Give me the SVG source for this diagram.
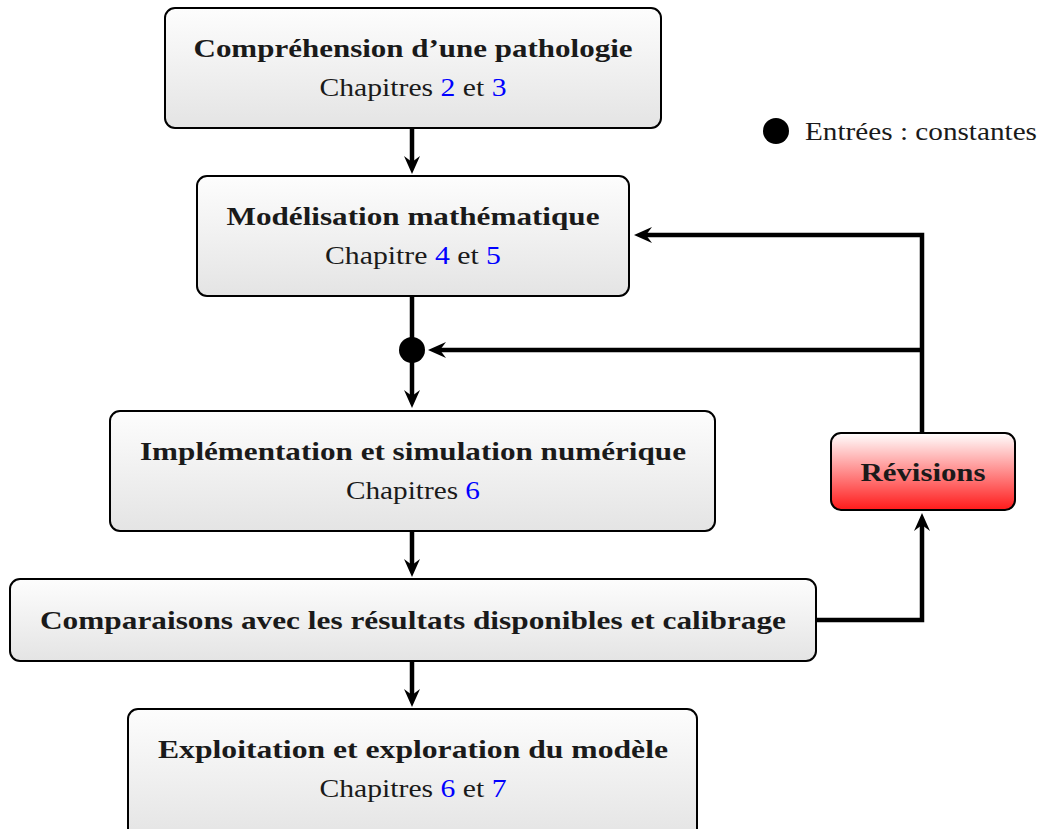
<svg xmlns="http://www.w3.org/2000/svg" width="1040" height="829" viewBox="0 0 1040 829">
<defs>
<linearGradient id="gGray" x1="0" y1="0" x2="0" y2="1">
<stop offset="0" stop-color="#fdfdfd"/>
<stop offset="1" stop-color="#e4e4e4"/>
</linearGradient>
<linearGradient id="gRed" x1="0" y1="0" x2="0" y2="1">
<stop offset="0" stop-color="#ffffff"/>
<stop offset="1" stop-color="#ff1a1a"/>
</linearGradient>
<marker id="arr" markerUnits="userSpaceOnUse" markerWidth="26" markerHeight="22" viewBox="-7 -11 26 22" refX="0" refY="0" orient="auto">
<path d="M-6,-8 L12,0 L-6,8 L0,0 Z" fill="#000"/>
</marker>
<style>
.box{fill:url(#gGray);stroke:#000;stroke-width:2}
.red{fill:url(#gRed);stroke:#000;stroke-width:2}
.t{font-family:"Liberation Serif","DejaVu Serif",serif;font-size:26px;font-weight:bold;fill:#1a1a1a;text-anchor:middle}
.s{font-family:"Liberation Serif","DejaVu Serif",serif;font-size:26px;fill:#1a1a1a;text-anchor:middle}
.l{font-family:"Liberation Serif","DejaVu Serif",serif;font-size:26px;fill:#1a1a1a}
.b{fill:#0000ff}
.c{fill:none;stroke:#000;stroke-width:4.5}
</style>
</defs>
<rect width="1040" height="829" fill="#fff"/>
<g id="connectors">
<path class="c" d="M412,128 V162" marker-end="url(#arr)"/>
<path class="c" d="M412,296 V350"/>
<path class="c" d="M412,350 V396" marker-end="url(#arr)"/>
<path class="c" d="M412,531 V565" marker-end="url(#arr)"/>
<path class="c" d="M412,661 V695" marker-end="url(#arr)"/>
<path class="c" d="M816,620 H922 V525" marker-end="url(#arr)"/>
<path class="c" d="M922,433 V235 H646" marker-end="url(#arr)"/>
<path class="c" d="M922,350 H440" marker-end="url(#arr)"/>
</g>
<g id="dot"><circle cx="412" cy="350" r="13" fill="#000"/></g>
<g id="n1">
<rect class="box" x="165" y="8" width="496" height="120" rx="10"/>
<text class="t" x="413" y="57" textLength="439" lengthAdjust="spacingAndGlyphs">Compréhension d’une pathologie</text>
<text class="s" x="413" y="96" textLength="187" lengthAdjust="spacingAndGlyphs">Chapitres <tspan class="b">2</tspan> et <tspan class="b">3</tspan></text>
</g>
<g id="n2">
<rect class="box" x="197" y="176" width="432" height="120" rx="10"/>
<text class="t" x="413" y="225" textLength="373" lengthAdjust="spacingAndGlyphs">Modélisation mathématique</text>
<text class="s" x="413" y="264" textLength="176" lengthAdjust="spacingAndGlyphs">Chapitre <tspan class="b">4</tspan> et <tspan class="b">5</tspan></text>
</g>
<g id="n3">
<rect class="box" x="110" y="411" width="605" height="120" rx="10"/>
<text class="t" x="413" y="460" textLength="546" lengthAdjust="spacingAndGlyphs">Implémentation et simulation numérique</text>
<text class="s" x="413" y="499" textLength="134" lengthAdjust="spacingAndGlyphs">Chapitres <tspan class="b">6</tspan></text>
</g>
<g id="n4">
<rect class="box" x="10" y="579" width="806" height="82" rx="10"/>
<text class="t" x="413" y="629" textLength="746" lengthAdjust="spacingAndGlyphs">Comparaisons avec les résultats disponibles et calibrage</text>
</g>
<g id="n5">
<rect class="box" x="128" y="709" width="569" height="130" rx="10"/>
<text class="t" x="413" y="758" textLength="510" lengthAdjust="spacingAndGlyphs">Exploitation et exploration du modèle</text>
<text class="s" x="413" y="797" textLength="187" lengthAdjust="spacingAndGlyphs">Chapitres <tspan class="b">6</tspan> et <tspan class="b">7</tspan></text>
</g>
<g id="revisions">
<rect class="red" x="831" y="433" width="184" height="77" rx="10"/>
<text class="t" x="923" y="481" textLength="125" lengthAdjust="spacingAndGlyphs">Révisions</text>
</g>
<g id="legend">
<circle cx="776" cy="131" r="13" fill="#000"/>
<text class="l" x="805" y="140" textLength="232" lengthAdjust="spacingAndGlyphs">Entrées : constantes</text>
</g>
</svg>
